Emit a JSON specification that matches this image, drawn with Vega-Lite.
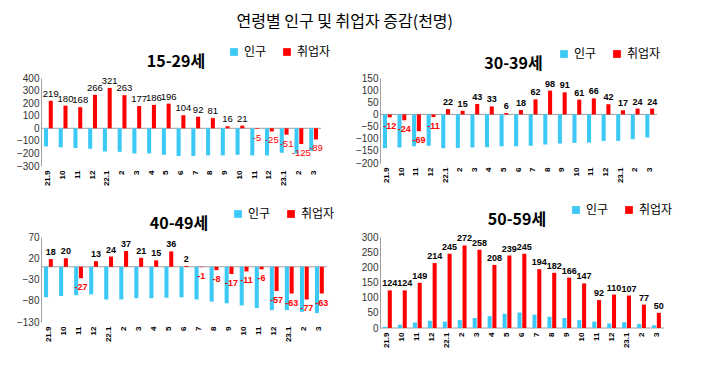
{
"$schema": "https://vega.github.io/schema/vega-lite/v6.json",
"padding": {"left": 16, "top": 14, "right": 5, "bottom": 2},
"title": {"text": "연령별 인구 및 취업자 증감(천명)", "font": "Noto Sans CJK KR", "fontSize": 16, "fontWeight": "normal", "anchor": "middle", "offset": 16, "color": "#000"},
"config": {"view": {"stroke": null}, "axis": {"labelFont": "Liberation Sans", "domainColor": "#A0A0A0", "ticks": false, "grid": false}, "axisY": {"labelOverlap": false, "tickCount": 20}},
"data": {"values": [
{"p":"15-29세","m":"21.9","s":"인구","v":-144},{"p":"15-29세","m":"21.10","s":"인구","v":-152},{"p":"15-29세","m":"21.11","s":"인구","v":-157},{"p":"15-29세","m":"21.12","s":"인구","v":-163},{"p":"15-29세","m":"22.1","s":"인구","v":-184},{"p":"15-29세","m":"22.2","s":"인구","v":-187},{"p":"15-29세","m":"22.3","s":"인구","v":-200},{"p":"15-29세","m":"22.4","s":"인구","v":-200},{"p":"15-29세","m":"22.5","s":"인구","v":-211},{"p":"15-29세","m":"22.6","s":"인구","v":-221},{"p":"15-29세","m":"22.7","s":"인구","v":-221},{"p":"15-29세","m":"22.8","s":"인구","v":-216},{"p":"15-29세","m":"22.9","s":"인구","v":-216},{"p":"15-29세","m":"22.10","s":"인구","v":-211},{"p":"15-29세","m":"22.11","s":"인구","v":-216},{"p":"15-29세","m":"22.12","s":"인구","v":-216},{"p":"15-29세","m":"23.1","s":"인구","v":-195},{"p":"15-29세","m":"23.2","s":"인구","v":-200},{"p":"15-29세","m":"23.3","s":"인구","v":-181},
{"p":"15-29세","m":"21.9","s":"취업자","v":219},{"p":"15-29세","m":"21.10","s":"취업자","v":180},{"p":"15-29세","m":"21.11","s":"취업자","v":168},{"p":"15-29세","m":"21.12","s":"취업자","v":266},{"p":"15-29세","m":"22.1","s":"취업자","v":321},{"p":"15-29세","m":"22.2","s":"취업자","v":263},{"p":"15-29세","m":"22.3","s":"취업자","v":177},{"p":"15-29세","m":"22.4","s":"취업자","v":186},{"p":"15-29세","m":"22.5","s":"취업자","v":196},{"p":"15-29세","m":"22.6","s":"취업자","v":104},{"p":"15-29세","m":"22.7","s":"취업자","v":92},{"p":"15-29세","m":"22.8","s":"취업자","v":81},{"p":"15-29세","m":"22.9","s":"취업자","v":16},{"p":"15-29세","m":"22.10","s":"취업자","v":21},{"p":"15-29세","m":"22.11","s":"취업자","v":-5},{"p":"15-29세","m":"22.12","s":"취업자","v":-25},{"p":"15-29세","m":"23.1","s":"취업자","v":-51},{"p":"15-29세","m":"23.2","s":"취업자","v":-125},{"p":"15-29세","m":"23.3","s":"취업자","v":-89},
{"p":"30-39세","m":"21.9","s":"인구","v":-139},{"p":"30-39세","m":"21.10","s":"인구","v":-136},{"p":"30-39세","m":"21.11","s":"인구","v":-131},{"p":"30-39세","m":"21.12","s":"인구","v":-129},{"p":"30-39세","m":"22.1","s":"인구","v":-139},{"p":"30-39세","m":"22.2","s":"인구","v":-138},{"p":"30-39세","m":"22.3","s":"인구","v":-136},{"p":"30-39세","m":"22.4","s":"인구","v":-135},{"p":"30-39세","m":"22.5","s":"인구","v":-131},{"p":"30-39세","m":"22.6","s":"인구","v":-131},{"p":"30-39세","m":"22.7","s":"인구","v":-129},{"p":"30-39세","m":"22.8","s":"인구","v":-124},{"p":"30-39세","m":"22.9","s":"인구","v":-120},{"p":"30-39세","m":"22.10","s":"인구","v":-117},{"p":"30-39세","m":"22.11","s":"인구","v":-116},{"p":"30-39세","m":"22.12","s":"인구","v":-109},{"p":"30-39세","m":"23.1","s":"인구","v":-109},{"p":"30-39세","m":"23.2","s":"인구","v":-102},{"p":"30-39세","m":"23.3","s":"인구","v":-95},
{"p":"30-39세","m":"21.9","s":"취업자","v":-12},{"p":"30-39세","m":"21.10","s":"취업자","v":-24},{"p":"30-39세","m":"21.11","s":"취업자","v":-69},{"p":"30-39세","m":"21.12","s":"취업자","v":-11},{"p":"30-39세","m":"22.1","s":"취업자","v":22},{"p":"30-39세","m":"22.2","s":"취업자","v":15},{"p":"30-39세","m":"22.3","s":"취업자","v":43},{"p":"30-39세","m":"22.4","s":"취업자","v":33},{"p":"30-39세","m":"22.5","s":"취업자","v":6},{"p":"30-39세","m":"22.6","s":"취업자","v":18},{"p":"30-39세","m":"22.7","s":"취업자","v":62},{"p":"30-39세","m":"22.8","s":"취업자","v":98},{"p":"30-39세","m":"22.9","s":"취업자","v":91},{"p":"30-39세","m":"22.10","s":"취업자","v":61},{"p":"30-39세","m":"22.11","s":"취업자","v":66},{"p":"30-39세","m":"22.12","s":"취업자","v":42},{"p":"30-39세","m":"23.1","s":"취업자","v":17},{"p":"30-39세","m":"23.2","s":"취업자","v":24},{"p":"30-39세","m":"23.3","s":"취업자","v":24},
{"p":"40-49세","m":"21.9","s":"인구","v":-72},{"p":"40-49세","m":"21.10","s":"인구","v":-69},{"p":"40-49세","m":"21.11","s":"인구","v":-67},{"p":"40-49세","m":"21.12","s":"인구","v":-65},{"p":"40-49세","m":"22.1","s":"인구","v":-77},{"p":"40-49세","m":"22.2","s":"인구","v":-77},{"p":"40-49세","m":"22.3","s":"인구","v":-74},{"p":"40-49세","m":"22.4","s":"인구","v":-74},{"p":"40-49세","m":"22.5","s":"인구","v":-73},{"p":"40-49세","m":"22.6","s":"인구","v":-72},{"p":"40-49세","m":"22.7","s":"인구","v":-77},{"p":"40-49세","m":"22.8","s":"인구","v":-82},{"p":"40-49세","m":"22.9","s":"인구","v":-86},{"p":"40-49세","m":"22.10","s":"인구","v":-91},{"p":"40-49세","m":"22.11","s":"인구","v":-97},{"p":"40-49세","m":"22.12","s":"인구","v":-102},{"p":"40-49세","m":"23.1","s":"인구","v":-102},{"p":"40-49세","m":"23.2","s":"인구","v":-106},{"p":"40-49세","m":"23.3","s":"인구","v":-109},
{"p":"40-49세","m":"21.9","s":"취업자","v":18},{"p":"40-49세","m":"21.10","s":"취업자","v":20},{"p":"40-49세","m":"21.11","s":"취업자","v":-27},{"p":"40-49세","m":"21.12","s":"취업자","v":13},{"p":"40-49세","m":"22.1","s":"취업자","v":24},{"p":"40-49세","m":"22.2","s":"취업자","v":37},{"p":"40-49세","m":"22.3","s":"취업자","v":21},{"p":"40-49세","m":"22.4","s":"취업자","v":15},{"p":"40-49세","m":"22.5","s":"취업자","v":36},{"p":"40-49세","m":"22.6","s":"취업자","v":2},{"p":"40-49세","m":"22.7","s":"취업자","v":-1},{"p":"40-49세","m":"22.8","s":"취업자","v":-8},{"p":"40-49세","m":"22.9","s":"취업자","v":-17},{"p":"40-49세","m":"22.10","s":"취업자","v":-11},{"p":"40-49세","m":"22.11","s":"취업자","v":-6},{"p":"40-49세","m":"22.12","s":"취업자","v":-57},{"p":"40-49세","m":"23.1","s":"취업자","v":-63},{"p":"40-49세","m":"23.2","s":"취업자","v":-77},{"p":"40-49세","m":"23.3","s":"취업자","v":-63},
{"p":"50-59세","m":"21.9","s":"인구","v":4},{"p":"50-59세","m":"21.10","s":"인구","v":11},{"p":"50-59세","m":"21.11","s":"인구","v":18},{"p":"50-59세","m":"21.12","s":"인구","v":24},{"p":"50-59세","m":"22.1","s":"인구","v":21},{"p":"50-59세","m":"22.2","s":"인구","v":26},{"p":"50-59세","m":"22.3","s":"인구","v":33},{"p":"50-59세","m":"22.4","s":"인구","v":39},{"p":"50-59세","m":"22.5","s":"인구","v":47},{"p":"50-59세","m":"22.6","s":"인구","v":51},{"p":"50-59세","m":"22.7","s":"인구","v":44},{"p":"50-59세","m":"22.8","s":"인구","v":37},{"p":"50-59세","m":"22.9","s":"인구","v":33},{"p":"50-59세","m":"22.10","s":"인구","v":26},{"p":"50-59세","m":"22.11","s":"인구","v":21},{"p":"50-59세","m":"22.12","s":"인구","v":15},{"p":"50-59세","m":"23.1","s":"인구","v":19},{"p":"50-59세","m":"23.2","s":"인구","v":13},{"p":"50-59세","m":"23.3","s":"인구","v":9},
{"p":"50-59세","m":"21.9","s":"취업자","v":124},{"p":"50-59세","m":"21.10","s":"취업자","v":124},{"p":"50-59세","m":"21.11","s":"취업자","v":149},{"p":"50-59세","m":"21.12","s":"취업자","v":214},{"p":"50-59세","m":"22.1","s":"취업자","v":245},{"p":"50-59세","m":"22.2","s":"취업자","v":272},{"p":"50-59세","m":"22.3","s":"취업자","v":258},{"p":"50-59세","m":"22.4","s":"취업자","v":208},{"p":"50-59세","m":"22.5","s":"취업자","v":239},{"p":"50-59세","m":"22.6","s":"취업자","v":245},{"p":"50-59세","m":"22.7","s":"취업자","v":194},{"p":"50-59세","m":"22.8","s":"취업자","v":182},{"p":"50-59세","m":"22.9","s":"취업자","v":166},{"p":"50-59세","m":"22.10","s":"취업자","v":147},{"p":"50-59세","m":"22.11","s":"취업자","v":92},{"p":"50-59세","m":"22.12","s":"취업자","v":110},{"p":"50-59세","m":"23.1","s":"취업자","v":107},{"p":"50-59세","m":"23.2","s":"취업자","v":77},{"p":"50-59세","m":"23.3","s":"취업자","v":50}
]},
"columns": 2,
"spacing": {"row": 18, "column": 20},
"resolve": {"scale": {"color": "independent"}},
"concat": [
{
 "title": {"text": "15-29세", "font": "Noto Sans CJK KR", "fontSize": 16, "fontWeight": "bold", "dx": -5, "offset": -24},
 "width": 280, "height": 88,
 "transform": [{"filter": {"field": "p", "equal": "15-29세"}}],
 "layer": [
  {"transform": [{"filter": "datum.m === '21.9' && datum.s === '인구'"}], "mark": {"type": "rule", "color": "#A0A0A0"}, "encoding": {"y": {"datum": 0, "type": "quantitative", "axis": {"title": null, "values": [-300, -200, -100, 0, 100, 200, 300, 400], "tickCount": 20, "labelFontSize": 10, "labelColor": "#333", "labelOverlap": false}}}},
  {"mark": {"type": "bar"},
   "encoding": {
    "x": {"field": "m", "type": "nominal", "sort": null, "scale": {"paddingInner": 0.4, "paddingOuter": 0.2}, "axis": {"title": null, "labelAngle": 270, "labelFontSize": 8, "labelFontWeight": "bold", "labelColor": "#000", "domain": false, "labelPadding": 4, "labelExpr": "indexof(['21.9','22.1','23.1'], datum.value) >= 0 ? datum.value : split(datum.value, '.')[1]"}},
    "xOffset": {"field": "s", "type": "nominal", "sort": ["인구", "취업자"], "scale": {"paddingInner": 0.15}},
    "y": {"field": "v", "type": "quantitative", "scale": {"domain": [-300, 400], "nice": false}, "axis": {"title": null, "values": [-300, -200, -100, 0, 100, 200, 300, 400], "tickCount": 20, "labelFontSize": 10, "labelColor": "#333", "labelOverlap": false}},
    "color": {"field": "s", "type": "nominal", "scale": {"domain": ["인구", "취업자"], "range": ["#3DC9F5", "#FF0000"]}, "legend": {"orient": "none", "legendX": 187, "legendY": -32, "direction": "horizontal", "title": null, "symbolType": "square", "symbolSize": 60, "labelFont": "Noto Sans CJK KR", "labelFontSize": 12, "columnPadding": 14}}
   }},
  {"transform": [{"filter": "datum.s === '취업자' && datum.v >= 0"}], "mark": {"type": "text", "baseline": "bottom", "dy": -2, "fontSize": 9.5, "font": "Liberation Sans"},
   "encoding": {"x": {"field": "m", "type": "nominal", "sort": null}, "xOffset": {"field": "s", "type": "nominal", "sort": ["인구", "취업자"]}, "y": {"field": "v", "type": "quantitative"}, "text": {"field": "v"}, "color": {"value": "#000"}}},
  {"transform": [{"filter": "datum.s === '취업자' && datum.v < 0"}], "mark": {"type": "text", "baseline": "top", "dy": 4, "fontSize": 9.5, "font": "Liberation Sans"},
   "encoding": {"x": {"field": "m", "type": "nominal", "sort": null}, "xOffset": {"field": "s", "type": "nominal", "sort": ["인구", "취업자"]}, "y": {"field": "v", "type": "quantitative"}, "text": {"field": "v"}, "color": {"value": "#FF0000"}}}
 ]
},
{
 "title": {"text": "30-39세", "font": "Noto Sans CJK KR", "fontSize": 16, "fontWeight": "bold", "dx": -5, "offset": -24},
 "width": 277, "height": 85,
 "transform": [{"filter": {"field": "p", "equal": "30-39세"}}],
 "layer": [
  {"transform": [{"filter": "datum.m === '21.9' && datum.s === '인구'"}], "mark": {"type": "rule", "color": "#A0A0A0"}, "encoding": {"y": {"datum": 0, "type": "quantitative", "axis": {"title": null, "values": [-200, -150, -100, -50, 0, 50, 100, 150], "tickCount": 20, "labelFontSize": 10, "labelColor": "#333", "labelOverlap": false}}}},
  {"mark": {"type": "bar"},
   "encoding": {
    "x": {"field": "m", "type": "nominal", "sort": null, "scale": {"paddingInner": 0.4, "paddingOuter": 0.2}, "axis": {"title": null, "labelAngle": 270, "labelFontSize": 8, "labelFontWeight": "bold", "labelColor": "#000", "domain": false, "labelPadding": 4, "labelExpr": "indexof(['21.9','22.1','23.1'], datum.value) >= 0 ? datum.value : split(datum.value, '.')[1]"}},
    "xOffset": {"field": "s", "type": "nominal", "sort": ["인구", "취업자"], "scale": {"paddingInner": 0.15}},
    "y": {"field": "v", "type": "quantitative", "scale": {"domain": [-200, 150], "nice": false}, "axis": {"title": null, "values": [-200, -150, -100, -50, 0, 50, 100, 150], "tickCount": 20, "labelFontSize": 10, "labelColor": "#333", "labelOverlap": false}},
    "color": {"field": "s", "type": "nominal", "scale": {"domain": ["인구", "취업자"], "range": ["#3DC9F5", "#FF0000"]}, "legend": {"orient": "none", "legendX": 178, "legendY": -30, "direction": "horizontal", "title": null, "symbolType": "square", "symbolSize": 60, "labelFont": "Noto Sans CJK KR", "labelFontSize": 12, "columnPadding": 14}}
   }},
  {"transform": [{"filter": "datum.s === '취업자' && datum.v >= 0"}], "mark": {"type": "text", "baseline": "bottom", "dy": -2, "fontSize": 9, "font": "Liberation Sans", "fontWeight": "bold"},
   "encoding": {"x": {"field": "m", "type": "nominal", "sort": null}, "xOffset": {"field": "s", "type": "nominal", "sort": ["인구", "취업자"]}, "y": {"field": "v", "type": "quantitative"}, "text": {"field": "v"}, "color": {"value": "#000"}}},
  {"transform": [{"filter": "datum.s === '취업자' && datum.v < 0"}], "mark": {"type": "text", "baseline": "top", "dy": 5, "fontSize": 9, "font": "Liberation Sans", "fontWeight": "bold"},
   "encoding": {"x": {"field": "m", "type": "nominal", "sort": null}, "xOffset": {"field": "s", "type": "nominal", "sort": ["인구", "취업자"]}, "y": {"field": "v", "type": "quantitative"}, "text": {"field": "v"}, "color": {"value": "#FF0000"}}}
 ]
},
{
 "title": {"text": "40-49세", "font": "Noto Sans CJK KR", "fontSize": 16, "fontWeight": "bold", "dx": -5, "offset": -24},
 "width": 286, "height": 85,
 "transform": [{"filter": {"field": "p", "equal": "40-49세"}}],
 "layer": [
  {"transform": [{"filter": "datum.m === '21.9' && datum.s === '인구'"}], "mark": {"type": "rule", "color": "#A0A0A0"}, "encoding": {"y": {"datum": 0, "type": "quantitative", "axis": {"title": null, "values": [-130, -80, -30, 20, 70], "tickCount": 20, "labelFontSize": 10, "labelColor": "#333", "labelOverlap": false}}}},
  {"mark": {"type": "bar"},
   "encoding": {
    "x": {"field": "m", "type": "nominal", "sort": null, "scale": {"paddingInner": 0.4, "paddingOuter": 0.2}, "axis": {"title": null, "labelAngle": 270, "labelFontSize": 8, "labelFontWeight": "bold", "labelColor": "#000", "domain": false, "labelPadding": 4, "labelExpr": "indexof(['21.9','22.1','23.1'], datum.value) >= 0 ? datum.value : split(datum.value, '.')[1]"}},
    "xOffset": {"field": "s", "type": "nominal", "sort": ["인구", "취업자"], "scale": {"paddingInner": 0.15}},
    "y": {"field": "v", "type": "quantitative", "scale": {"domain": [-130, 70], "nice": false}, "axis": {"title": null, "values": [-130, -80, -30, 20, 70], "tickCount": 20, "labelFontSize": 10, "labelColor": "#333", "labelOverlap": false}},
    "color": {"field": "s", "type": "nominal", "scale": {"domain": ["인구", "취업자"], "range": ["#3DC9F5", "#FF0000"]}, "legend": {"orient": "none", "legendX": 191, "legendY": -29, "direction": "horizontal", "title": null, "symbolType": "square", "symbolSize": 60, "labelFont": "Noto Sans CJK KR", "labelFontSize": 12, "columnPadding": 14}}
   }},
  {"transform": [{"filter": "datum.s === '취업자' && datum.v >= 0"}], "mark": {"type": "text", "baseline": "bottom", "dy": -2, "fontSize": 9, "font": "Liberation Sans", "fontWeight": "bold"},
   "encoding": {"x": {"field": "m", "type": "nominal", "sort": null}, "xOffset": {"field": "s", "type": "nominal", "sort": ["인구", "취업자"]}, "y": {"field": "v", "type": "quantitative"}, "text": {"field": "v"}, "color": {"value": "#000"}}},
  {"transform": [{"filter": "datum.s === '취업자' && datum.v < 0"}], "mark": {"type": "text", "baseline": "top", "dy": 5, "fontSize": 9, "font": "Liberation Sans", "fontWeight": "bold"},
   "encoding": {"x": {"field": "m", "type": "nominal", "sort": null}, "xOffset": {"field": "s", "type": "nominal", "sort": ["인구", "취업자"]}, "y": {"field": "v", "type": "quantitative"}, "text": {"field": "v"}, "color": {"value": "#FF0000"}}}
 ]
},
{
 "title": {"text": "50-59세", "font": "Noto Sans CJK KR", "fontSize": 16, "fontWeight": "bold", "dx": -5, "offset": -24},
 "width": 284, "height": 91,
 "transform": [{"filter": {"field": "p", "equal": "50-59세"}}],
 "layer": [
  {"transform": [{"filter": "datum.m === '21.9' && datum.s === '인구'"}], "mark": {"type": "rule", "color": "#A0A0A0"}, "encoding": {"y": {"datum": 0, "type": "quantitative", "axis": {"title": null, "values": [0, 50, 100, 150, 200, 250, 300], "tickCount": 20, "labelFontSize": 10, "labelColor": "#333", "labelOverlap": false}}}},
  {"mark": {"type": "bar"},
   "encoding": {
    "x": {"field": "m", "type": "nominal", "sort": null, "scale": {"paddingInner": 0.4, "paddingOuter": 0.2}, "axis": {"title": null, "labelAngle": 270, "labelFontSize": 8, "labelFontWeight": "bold", "labelColor": "#000", "domain": false, "labelPadding": 4, "labelExpr": "indexof(['21.9','22.1','23.1'], datum.value) >= 0 ? datum.value : split(datum.value, '.')[1]"}},
    "xOffset": {"field": "s", "type": "nominal", "sort": ["인구", "취업자"], "scale": {"paddingInner": 0.15}},
    "y": {"field": "v", "type": "quantitative", "scale": {"domain": [0, 300], "nice": false}, "axis": {"title": null, "values": [0, 50, 100, 150, 200, 250, 300], "tickCount": 20, "labelFontSize": 10, "labelColor": "#333", "labelOverlap": false}},
    "color": {"field": "s", "type": "nominal", "scale": {"domain": ["인구", "취업자"], "range": ["#3DC9F5", "#FF0000"]}, "legend": {"orient": "none", "legendX": 190, "legendY": -33, "direction": "horizontal", "title": null, "symbolType": "square", "symbolSize": 60, "labelFont": "Noto Sans CJK KR", "labelFontSize": 12, "columnPadding": 14}}
   }},
  {"transform": [{"filter": "datum.s === '취업자' && datum.v >= 0"}], "mark": {"type": "text", "baseline": "bottom", "dy": -2, "fontSize": 9, "font": "Liberation Sans", "fontWeight": "bold"},
   "encoding": {"x": {"field": "m", "type": "nominal", "sort": null}, "xOffset": {"field": "s", "type": "nominal", "sort": ["인구", "취업자"]}, "y": {"field": "v", "type": "quantitative"}, "text": {"field": "v"}, "color": {"value": "#000"}}}
 ]
}
]
}
